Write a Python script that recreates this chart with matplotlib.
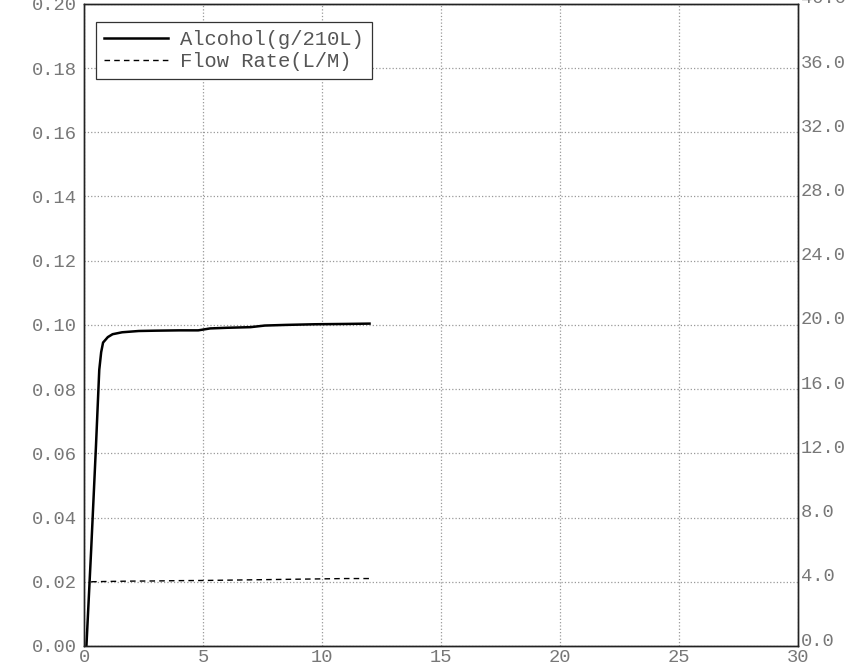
import numpy as np
import matplotlib
matplotlib.use('Agg')
import matplotlib.pyplot as plt
import matplotlib.transforms as mtransforms
from matplotlib.ticker import FormatStrFormatter

# Breath alcohol and flow rate vs time
alc_time = [0.1, 0.3, 0.5, 0.64, 0.72, 0.8, 1.0, 1.2, 1.6, 2.3, 3.0, 4.0,
            4.8, 5.3, 6.0, 7.0, 7.6, 8.5, 9.7, 11.0, 12.0]
alcohol = [0.0, 0.03, 0.062, 0.086, 0.0915, 0.0945, 0.0962, 0.0971, 0.0977,
           0.0981, 0.0982, 0.0983, 0.0983, 0.0989, 0.0991, 0.0993, 0.0998,
           0.1000, 0.1002, 0.1003, 0.1004]

flow_time = [0.3, 1, 2, 3, 4, 5, 6, 7, 8, 9, 10, 11, 12]
flow_rate = [4.0, 4.02, 4.04, 4.05, 4.07, 4.08, 4.1, 4.12, 4.14, 4.16,
             4.18, 4.2, 4.2]

x_ticks = [0, 5, 10, 15, 20, 25, 30]
left_ticks = np.arange(0, 0.201, 0.02)
right_ticks = np.arange(0, 40.1, 4.0)

FONT = 'Liberation Mono'
TEXT_GREY = '#777777'

fig = plt.figure(figsize=(8.61, 6.71), dpi=100)
ax = fig.add_axes([0.0976, 0.0373, 0.829, 0.957])
ax2 = ax.twinx()

ax.plot(alc_time, alcohol, '-', color='black', linewidth=1.8,
        label='Alcohol(g/210L)')
ax2.plot(flow_time, flow_rate, '--', color='black', linewidth=1.0,
         dashes=(4, 3), label='Flow Rate(L/M)')

ax.set_xlim(0, 30)
ax.set_ylim(0, 0.20)
ax2.set_ylim(0, 40)
ax.set_xticks(x_ticks)
ax.set_yticks(left_ticks)
ax2.set_yticks(right_ticks)
ax.yaxis.set_major_formatter(FormatStrFormatter('%.2f'))
ax2.yaxis.set_major_formatter(FormatStrFormatter('%.1f'))

ax.grid(True, linestyle=':', color='#999999', linewidth=0.9)

for a in (ax, ax2):
    a.tick_params(length=0, labelsize=13.5, labelcolor=TEXT_GREY)
    for lbl in a.get_xticklabels() + a.get_yticklabels():
        lbl.set_fontfamily(FONT)
    for sp in a.spines.values():
        sp.set_color('#222222')
        sp.set_linewidth(1.0)
ax.tick_params(axis='y', pad=5)
ax.tick_params(axis='x', pad=2)
ax2.tick_params(axis='y', pad=2)

# right-hand labels sit a little above their grid lines in the scan
shift_up = mtransforms.ScaledTranslation(0, 5 / 72, fig.dpi_scale_trans)
for tick in ax2.yaxis.get_major_ticks():
    tick.label2.set_transform(tick.label2.get_transform() + shift_up)

h1, l1 = ax.get_legend_handles_labels()
h2, l2 = ax2.get_legend_handles_labels()
leg = ax.legend(h1 + h2, l1 + l2, loc='upper left',
                bbox_to_anchor=(0.017, 0.972), borderaxespad=0,
                prop={'family': FONT, 'size': 14.8}, handlelength=3.1,
                fancybox=False, framealpha=1, edgecolor='#333333',
                labelspacing=0.15, borderpad=0.4, handletextpad=0.6)
leg.get_frame().set_linewidth(0.9)
for t in leg.get_texts():
    t.set_color('#555555')
leg.remove()
ax2.add_artist(leg)

fig.savefig('out.png', dpi=100, facecolor='white')
